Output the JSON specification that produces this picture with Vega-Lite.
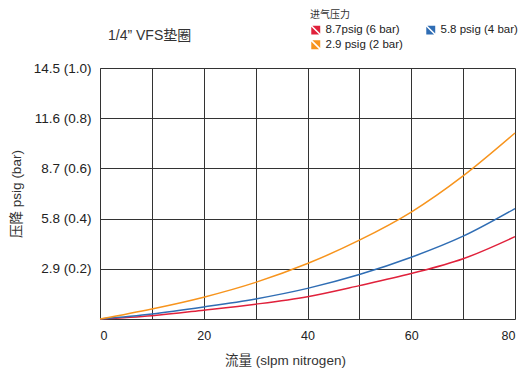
{
  "$schema": "https://vega.github.io/schema/vega-lite/v6.json",
  "width": 415,
  "height": 251,
  "autosize": {"type": "none"},
  "padding": {"left": 100, "top": 68, "right": 5, "bottom": 51},
  "background": "white",
  "config": {
    "font": "Liberation Sans, Noto Sans CJK SC",
    "view": {"stroke": null}
  },
  "title": {
    "text": "1/4” VFS垫圈",
    "anchor": "start",
    "frame": "group",
    "dx": 8,
    "offset": 26,
    "dy": 59,
    "fontSize": 14,
    "fontWeight": "normal",
    "color": "#333"
  },
  "data": {
    "values": [
      {"flow": 0, "dp": 0, "series": "8.7psig (6 bar)"},
      {"flow": 10, "dp": 0.013, "series": "8.7psig (6 bar)"},
      {"flow": 20, "dp": 0.035, "series": "8.7psig (6 bar)"},
      {"flow": 30, "dp": 0.059, "series": "8.7psig (6 bar)"},
      {"flow": 40, "dp": 0.089, "series": "8.7psig (6 bar)"},
      {"flow": 50, "dp": 0.133, "series": "8.7psig (6 bar)"},
      {"flow": 60, "dp": 0.181, "series": "8.7psig (6 bar)"},
      {"flow": 70, "dp": 0.240, "series": "8.7psig (6 bar)"},
      {"flow": 80, "dp": 0.328, "series": "8.7psig (6 bar)"},
      {"flow": 0, "dp": 0, "series": "5.8 psig (4 bar)"},
      {"flow": 10, "dp": 0.020, "series": "5.8 psig (4 bar)"},
      {"flow": 20, "dp": 0.048, "series": "5.8 psig (4 bar)"},
      {"flow": 30, "dp": 0.080, "series": "5.8 psig (4 bar)"},
      {"flow": 40, "dp": 0.122, "series": "5.8 psig (4 bar)"},
      {"flow": 50, "dp": 0.177, "series": "5.8 psig (4 bar)"},
      {"flow": 60, "dp": 0.246, "series": "5.8 psig (4 bar)"},
      {"flow": 70, "dp": 0.330, "series": "5.8 psig (4 bar)"},
      {"flow": 80, "dp": 0.440, "series": "5.8 psig (4 bar)"},
      {"flow": 0, "dp": 0, "series": "2.9 psig (2 bar)"},
      {"flow": 10, "dp": 0.040, "series": "2.9 psig (2 bar)"},
      {"flow": 20, "dp": 0.087, "series": "2.9 psig (2 bar)"},
      {"flow": 30, "dp": 0.146, "series": "2.9 psig (2 bar)"},
      {"flow": 40, "dp": 0.221, "series": "2.9 psig (2 bar)"},
      {"flow": 50, "dp": 0.314, "series": "2.9 psig (2 bar)"},
      {"flow": 60, "dp": 0.426, "series": "2.9 psig (2 bar)"},
      {"flow": 70, "dp": 0.570, "series": "2.9 psig (2 bar)"},
      {"flow": 80, "dp": 0.741, "series": "2.9 psig (2 bar)"}
    ]
  },
  "mark": {"type": "line", "interpolate": "monotone", "strokeWidth": 1.5},
  "encoding": {
    "x": {
      "field": "flow",
      "type": "quantitative",
      "scale": {"domain": [0, 80], "nice": false},
      "axis": {
        "values": [0, 10, 20, 30, 40, 50, 60, 70, 80],
        "labelExpr": "datum.value % 20 == 0 ? datum.label : ''",
        "ticks": false,
        "labelPadding": 10,
        "labelFontSize": 12.5,
        "labelColor": "#222",
        "grid": true,
        "gridColor": "#333",
        "gridOpacity": 1,
        "domainColor": "#333",
        "title": "流量 (slpm nitrogen)",
        "titleFontSize": 13.5,
        "titleFontWeight": "normal",
        "titleColor": "#333",
        "titlePadding": 12,
        "titleX": 185
      }
    },
    "y": {
      "field": "dp",
      "type": "quantitative",
      "scale": {"domain": [0, 1], "nice": false},
      "axis": {
        "values": [0.2, 0.4, 0.6, 0.8, 1.0],
        "labelExpr": "format(datum.value * 14.5, '.1f') + ' (' + format(datum.value, '.1f') + ')'",
        "ticks": false,
        "labelPadding": 9,
        "labelFontSize": 13.5,
        "labelColor": "#222",
        "grid": true,
        "gridColor": "#333",
        "gridOpacity": 1,
        "domainColor": "#333",
        "title": "压降 psig (bar)",
        "titleFontSize": 13.5,
        "titleFontWeight": "normal",
        "titleColor": "#333",
        "titlePadding": 10
      }
    },
    "color": {
      "field": "series",
      "type": "nominal",
      "scale": {
        "domain": ["8.7psig (6 bar)", "5.8 psig (4 bar)", "2.9 psig (2 bar)"],
        "range": ["#e0213b", "#2f6db4", "#f7941d"]
      },
      "legend": {
        "title": "进气压力",
        "orient": "none",
        "legendX": 210,
        "legendY": -58,
        "direction": "horizontal",
        "columns": 2,
        "columnPadding": 22,
        "rowPadding": 2,
        "titleFontSize": 10,
        "titleFontWeight": "normal",
        "titleColor": "#333",
        "titlePadding": 4,
        "labelFontSize": 11.5,
        "labelColor": "#222",
        "symbolType": "M-0.75,-1L1,-1L1,0.75ZM-1,-0.75L0.75,1L-1,1Z",
        "symbolSize": 80,
        "symbolStrokeWidth": 0,
        "symbolOpacity": 1,
        "labelOffset": 4,
        "symbolOffset": 0,
        "encode": {
          "symbols": {
            "update": {
              "fill": {"scale": "color", "field": "value"},
              "strokeWidth": {"value": 0}
            }
          }
        }
      }
    }
  }
}
